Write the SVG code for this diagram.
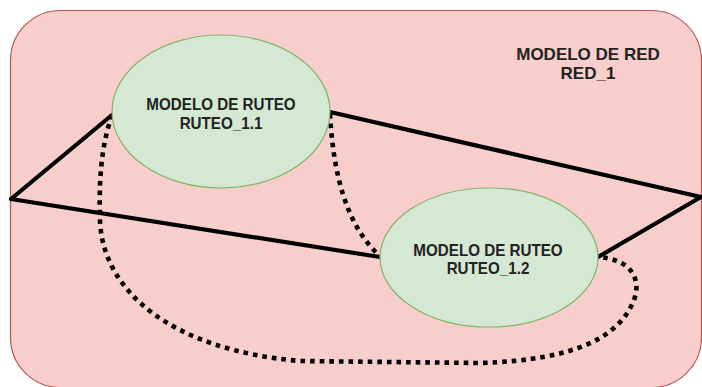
<svg xmlns="http://www.w3.org/2000/svg" width="702" height="387" viewBox="0 0 702 387">
<style>
.lbl{font-family:"Liberation Sans",Arial,sans-serif;font-weight:bold;fill:#222;text-anchor:middle}
.solid{fill:none;stroke:#000;stroke-width:4.2;stroke-linecap:round}
.dot{fill:none;stroke:#000;stroke-width:4.6;stroke-dasharray:4.6 5}
.node{fill:#d5e8d4;stroke:#82b366;stroke-width:1.2}
</style>
<rect width="702" height="387" fill="#ffffff"/>
<g id="red_1">
<rect x="10.5" y="10.5" width="691" height="377" rx="50" ry="50" fill="#f8cecc" stroke="#b85450" stroke-width="1.2"/>
<text class="lbl" font-size="17" x="588" y="60">MODELO DE RED</text>
<text class="lbl" font-size="17" x="588" y="79">RED_1</text>
</g>
<g id="connectors">
<path class="solid" d="M11,199 L112,115"/>
<path class="solid" d="M11,199 L380,257"/>
<path class="solid" d="M330,112 L701,197"/>
<path class="solid" d="M598,257 L701,197"/>
<path class="dot" d="M112,115 C100,150 99,185 100,220 C102,290 170,350 300,361 L480,363 C580,360 620,335 634,300 C642,278 630,259 598,257"/>
<path class="dot" d="M330,114 C333,170 345,225 380,256"/>
</g>
<g id="ruteo_1_1">
<ellipse class="node" cx="221" cy="111.5" rx="109" ry="76.5"/>
<text class="lbl" font-size="15.2" transform="translate(221,110) scale(1,1.14)">MODELO DE RUTEO</text>
<text class="lbl" font-size="15.2" transform="translate(221,129) scale(1,1.14)">RUTEO_1.1</text>
</g>
<g id="ruteo_1_2">
<ellipse class="node" cx="489" cy="257.5" rx="109" ry="69.5"/>
<text class="lbl" font-size="15.2" transform="translate(488,256) scale(1,1.14)">MODELO DE RUTEO</text>
<text class="lbl" font-size="15.2" transform="translate(488,274) scale(1,1.14)">RUTEO_1.2</text>
</g>
</svg>
